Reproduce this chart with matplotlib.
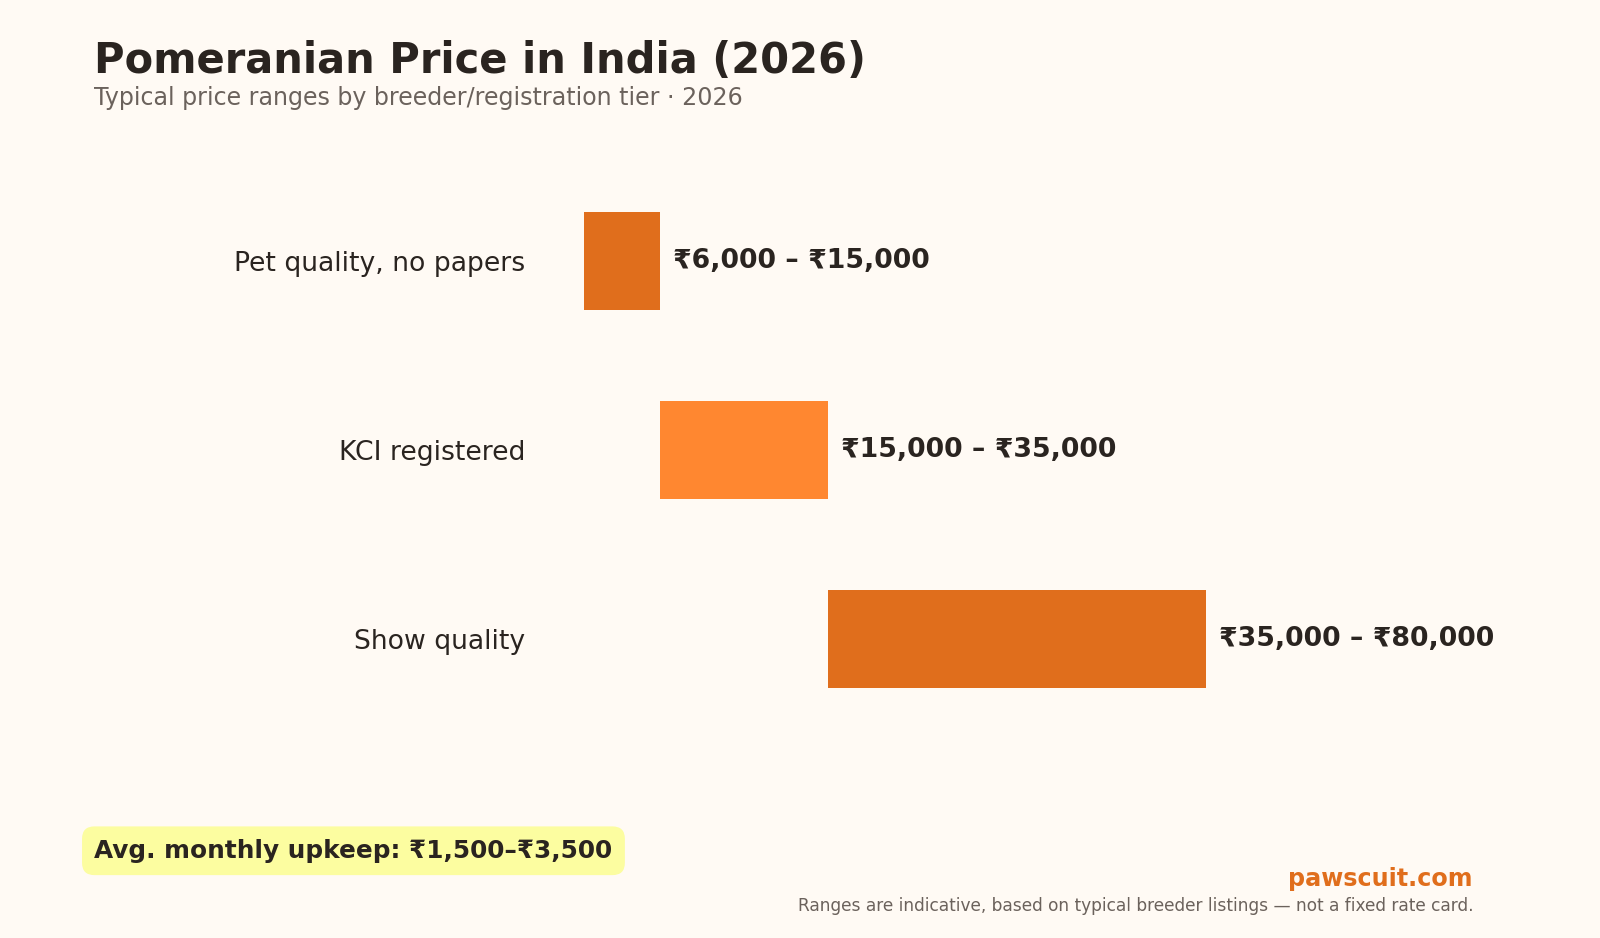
import matplotlib.pyplot as plt

# === Data
tiers = ["Pet quality, no papers", "KCI registered", "Show quality"]
price_low = [6000, 15000, 35000]
price_high = [15000, 35000, 80000]
bar_colors = ["#E06E1C", "#FF8730", "#E06E1C"]

title = "Pomeranian Price in India (2026)"
subtitle = "Typical price ranges by breeder/registration tier \u00b7 2026"
upkeep_note = "Avg. monthly upkeep: \u20b91,500\u2013\u20b93,500"
brand = "pawscuit.com"
footer = "Ranges are indicative, based on typical breeder listings \u2014 not a fixed rate card."

# === Style
bg = "#FFFAF4"
ink = "#2A2420"
muted = "#6B625C"
plt.rcParams['font.family'] = ['DejaVu Sans']

fig = plt.figure(figsize=(16, 9.38), dpi=100)
fig.patch.set_facecolor(bg)
ax = fig.add_axes([0.3337, 0.1677, 0.588, 0.7052])
ax.set_facecolor(bg)

# === Floating range bars
ypos = list(range(len(tiers)))
widths = [h - l for l, h in zip(price_low, price_high)]
ax.barh(ypos, widths, left=price_low, height=0.52, color=bar_colors)

for y, lo, hi in zip(ypos, price_low, price_high):
    ax.annotate(f"\u20b9{lo:,} \u2013 \u20b9{hi:,}", xy=(hi, y), xytext=(9.3, 0),
                textcoords="offset points", ha="left", va="center",
                fontsize=19.3, fontweight="bold", color=ink)

ax.set_xlim(0, 112000)
ax.set_ylim(2.75, -0.75)
ax.set_yticks(ypos)
ax.set_yticklabels(tiers, fontsize=19.2, color=ink)
ax.tick_params(axis="y", length=0, pad=6)
ax.set_xticks([])
for s in ax.spines.values():
    s.set_visible(False)

# === Titles and notes
fig.text(0.059, 0.935, title, fontsize=30, fontweight="bold", color=ink, va="center")
fig.text(0.059, 0.895, subtitle, fontsize=17.1, color=muted, va="center")

fig.text(0.059, 0.093, upkeep_note, fontsize=17.8, fontweight="bold", color=ink, va="center",
         bbox=dict(boxstyle="round,pad=0.5,rounding_size=0.5", facecolor="#FCFDA0", edgecolor="none"))

fig.text(0.9206, 0.063, brand, fontsize=17.2, fontweight="bold", color="#E06E1C", ha="right", va="center")
fig.text(0.9212, 0.034, footer, fontsize=12.25, color=muted, ha="right", va="center")

plt.savefig("out.png", dpi=100, facecolor=fig.get_facecolor())
